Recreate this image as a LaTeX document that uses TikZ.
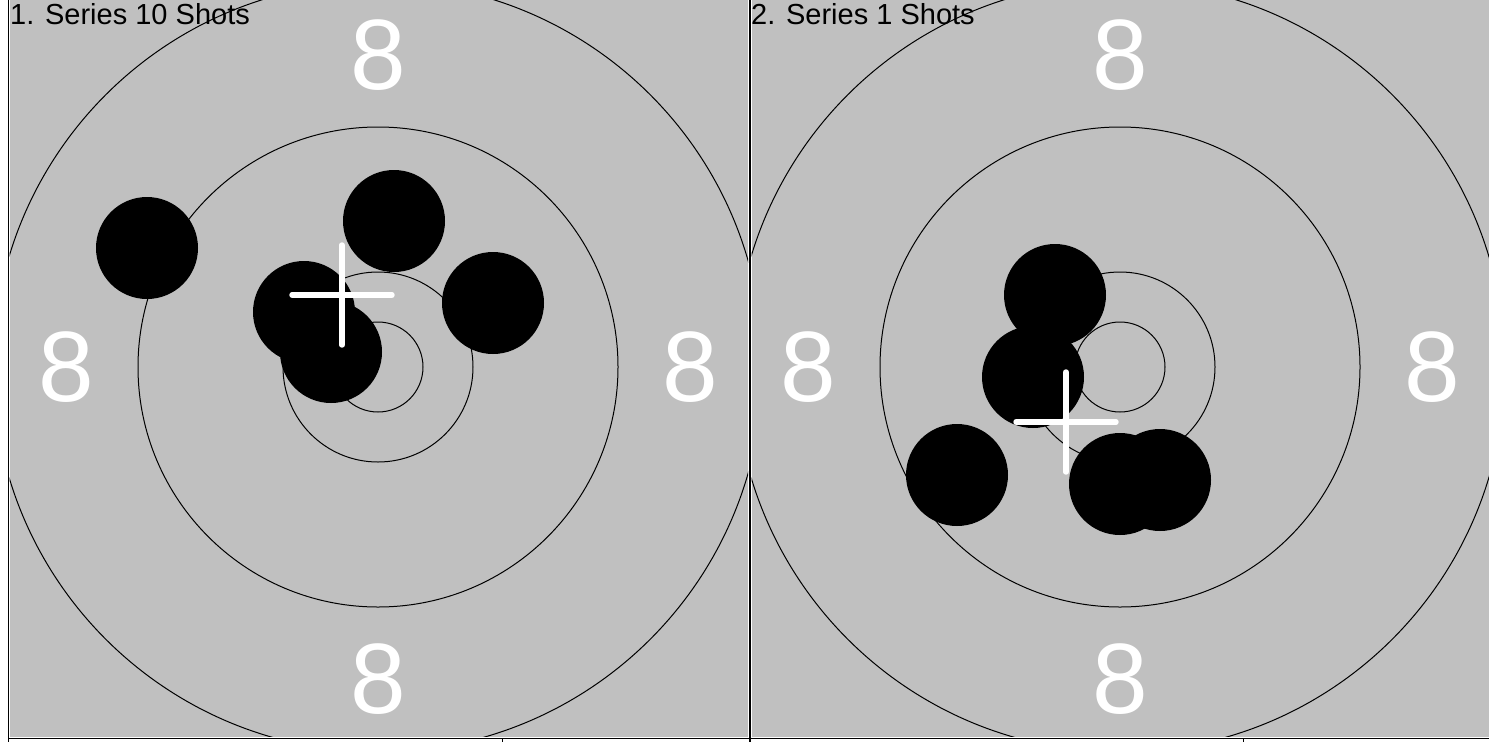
\documentclass[tikz,border=0pt]{standalone}
\usepackage{fontspec}
\setmainfont{Liberation Sans}
\definecolor{targetgray}{RGB}{192,192,192}
\tikzset{
  panel/.style={fill=targetgray},
  ring/.style={draw=black, line width=1pt},
  shot/.style={fill=black},
  crosshair/.style={draw=white, line width=5.4pt, line cap=round},
  score/.style={text=white, inner sep=0pt, font=\fontsize{100}{100}\selectfont},
  seriestitle/.style={inner sep=0pt, anchor=base west, font=\fontsize{29}{29}\selectfont},
  frame/.style={draw=black, line width=#1},
  frame/.default=1pt,
}

\begin{document}
\begin{tikzpicture}[x=1pt, y=-1pt]
  \useasboundingbox (0,0) rectangle (1489,742);
  \fill[white] (0,0) rectangle (1489,742);
  \def\cy{367} \def\rs{312}

  % Targets
  \foreach \i/\cx/\xl/\xr in {1/378/9.5/748, 2/1120/751.5/1489} {
    \begin{scope}
      \clip (\xl,0) rectangle (\xr,736.5);
      \fill[panel] (\xl,0) rectangle (\xr,736.5);
      \foreach \r in {45,95,240,385}
        \draw[ring] (\cx,\cy) circle[radius=\r];
    \end{scope}
    \node[score] (top\i) at (\cx,\cy-\rs) {8};
    \node[score] (left\i) at (\cx-\rs,\cy) {8};
    \node[score] (right\i) at (\cx+\rs,\cy) {8};
    \node[score] (bottom\i) at (\cx,\cy+\rs) {8};
  }

  % Frame
  \draw[frame] (8,0) -- (8,742);
  \draw[frame=1.6pt] (749.8,0) -- (749.8,742);
  \draw[frame=1.5pt] (8,738.6) -- (1489,738.6);
  \draw[frame] (502,738) -- (502,742);
  \draw[frame] (1243,738) -- (1243,742);

  % Titles
  \node[seriestitle] (title1) at (10,24) {1. Series 10 Shots};
  \node[seriestitle] (title2) at (751,24) {2. Series 1 Shots};

  % Shots
  \foreach \x/\y in {147/248, 394/221, 304/312, 331/352, 493/303,
                     1055/295, 1033/377, 957/475, 1120/484, 1160/480}
    \fill[shot] (\x,\y) circle[radius=51];

  % Mean point of impact
  \coordinate (hit1) at (342,295);
  \coordinate (hit2) at (1066,422);
  \foreach \h in {hit1, hit2} {
    \draw[crosshair] ([xshift=-50pt]\h) -- ([xshift=50pt]\h);
    \draw[crosshair] ([yshift=-50pt]\h) -- ([yshift=50pt]\h);
  }
\end{tikzpicture}
\end{document}
